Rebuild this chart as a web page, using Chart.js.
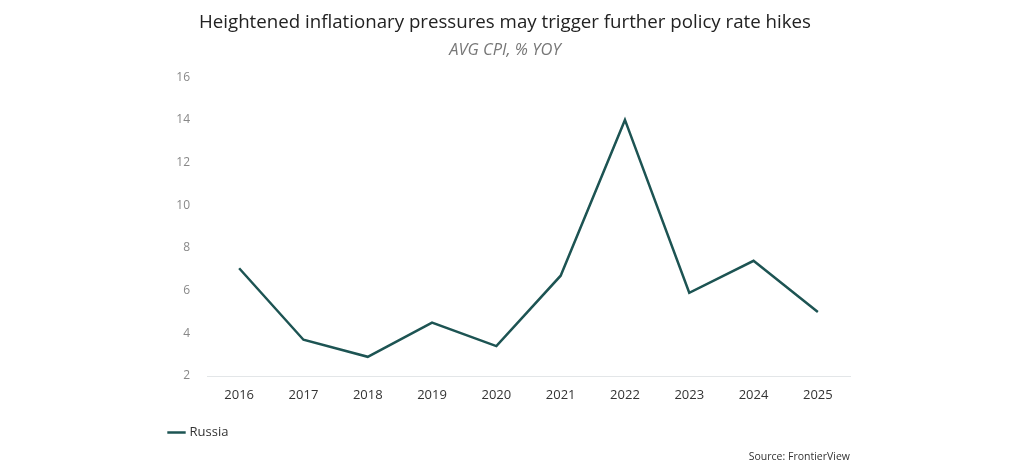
<!DOCTYPE html>
<html lang="en">
<head>
    <meta charset="UTF-8">
    <title>Russia CPI</title>
    <script src="https://cdn.jsdelivr.net/npm/chart.js"></script>
    <style>
        body {
            margin: 0;
            background: #fff;
            font-family: "Open Sans", sans-serif;
        }

        .wrap {
            position: relative;
            width: 1024px;
            height: 465px;
        }

        .source {
            position: absolute;
            right: 174px;
            top: 449px;
            font-size: 10.5px;
            color: #333;
        }
    </style>
</head>
<body>
    <div class="wrap">
        <canvas id="cpiChart" width="1024" height="465"></canvas>
        <div class="source">Source: FrontierView</div>
    </div>

    <script>
        // data
        const years = ['2016', '2017', '2018', '2019', '2020', '2021', '2022', '2023', '2024', '2025'];
        const russiaCpi = [7.05, 3.7, 2.9, 4.5, 3.4, 6.7, 14.0, 5.9, 7.4, 5.0];
        const yTicks = [2, 4, 6, 8, 10, 12, 14, 16];

        const lineColor = '#1d5453';

        const ctx = document.getElementById('cpiChart').getContext('2d');
        new Chart(ctx, {
            type: 'line',
            data: {
                labels: years,
                datasets: [{
                    label: 'Russia',
                    data: russiaCpi,
                    borderColor: lineColor,
                    backgroundColor: lineColor,
                    borderWidth: 2.5,
                    pointRadius: 0,
                    tension: 0
                }]
            },
            options: {
                responsive: false,
                animation: false,
                layout: {
                    padding: { left: 160, right: 174, top: 0, bottom: 16 }
                },
                plugins: {
                    title: {
                        display: true,
                        text: 'Heightened inflationary pressures may trigger further policy rate hikes',
                        color: '#222',
                        font: { family: 'Open Sans', size: 18.7, weight: 'normal' },
                        padding: { top: 11, bottom: 7 }
                    },
                    subtitle: {
                        display: true,
                        text: 'AVG CPI, % YOY',
                        color: '#777',
                        font: { family: 'Open Sans', size: 16.5, style: 'italic' },
                        padding: { top: 0, bottom: 17 }
                    },
                    legend: {
                        position: 'bottom',
                        align: 'start',
                        labels: {
                            usePointStyle: true,
                            pointStyle: 'line',
                            boxWidth: 20,
                            color: '#333',
                            font: { family: 'Open Sans', size: 13 }
                        }
                    },
                    tooltip: { enabled: false }
                },
                scales: {
                    x: {
                        offset: true,
                        afterFit: scale => {
                            scale.height = 40;
                        },
                        grid: {
                            display: false,
                            drawTicks: false
                        },
                        border: { display: true, color: '#e3e6e8', width: 1 },
                        ticks: {
                            padding: 11,
                            color: '#333',
                            font: { family: 'Open Sans', size: 13 }
                        }
                    },
                    y: {
                        min: 2,
                        max: 16,
                        afterBuildTicks: scale => {
                            scale.ticks = yTicks.map(v => ({ value: v }));
                        },
                        afterFit: scale => {
                            scale.width = 47;
                        },
                        grid: { display: false, drawTicks: false },
                        border: { display: false },
                        ticks: {
                            padding: 17,
                            color: '#888',
                            font: { family: 'Open Sans', size: 12 }
                        }
                    }
                }
            }
        });
    </script>
</body>
</html>
